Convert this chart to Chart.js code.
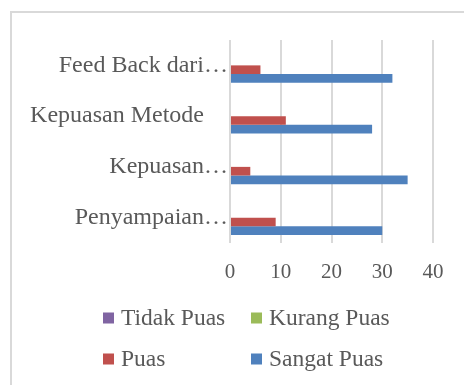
<!DOCTYPE html>
<html>
<head>
<meta charset="utf-8">
<script src="https://cdn.jsdelivr.net/npm/chart.js@4"></script>
<style>
  html, body { margin: 0; padding: 0; background: #fff; overflow: hidden; }
  #frame { position: absolute; left: 10px; top: 11px; width: 600px; height: 500px;
           border-left: 2px solid #d9d9d9; border-top: 2px solid #d9d9d9; }
  #wrap { position: absolute; left: 0; top: 0; width: 464px; height: 385px; }
</style>
</head>
<body>
<div id="frame"></div>
<div id="wrap"><canvas id="c" width="464" height="385"></canvas></div>
<script>
// Survey categories (top to bottom) and response counts per satisfaction level
const categories = ['Feed Back dari\u2026', 'Kepuasan Metode    ', 'Kepuasan\u2026', 'Penyampaian\u2026'];
const tidakPuas  = [0, 0, 0, 0];
const kurangPuas = [0, 0, 0, 0];
const puas       = [6, 11, 4, 9];
const sangatPuas = [32, 28, 35, 30];
const seriesNames  = ['Tidak Puas', 'Kurang Puas', 'Puas', 'Sangat Puas'];
const seriesColors = ['#8064A2', '#9BBB59', '#C0504D', '#4F81BD'];
const xTicks = [0, 10, 20, 30, 40];

const FONT = '"Liberation Serif", "Times New Roman", serif';
const TEXT = '#595959';

// Two-column legend drawn under the plot, columns aligned
const gridLegend = {
  id: 'gridLegend',
  afterDraw(chart) {
    const ctx = chart.ctx;
    const colX = [103, 251];
    const rowY = [318, 359];
    ctx.save();
    ctx.font = '23.5px ' + FONT;
    ctx.textBaseline = 'middle';
    ctx.textAlign = 'left';
    chart.data.datasets.forEach((ds, i) => {
      const x = colX[i % 2];
      const y = rowY[Math.floor(i / 2)];
      ctx.fillStyle = ds.backgroundColor;
      ctx.fillRect(x, y - 5.5, 11, 11);
      ctx.fillStyle = TEXT;
      ctx.fillText(ds.label, x + 18, y + 1);
    });
    ctx.restore();
  }
};

const seriesData = [tidakPuas, kurangPuas, puas, sangatPuas];

new Chart(document.getElementById('c'), {
  type: 'bar',
  data: {
    labels: categories,
    datasets: seriesNames.map((name, i) => ({
      label: name,
      data: seriesData[i],
      backgroundColor: seriesColors[i],
      borderWidth: 0,
      barPercentage: 1.0,
      categoryPercentage: 0.68
    }))
  },
  options: {
    indexAxis: 'y',
    responsive: false,
    animation: false,
    devicePixelRatio: 1,
    layout: { padding: { top: 40, right: 31, bottom: 0, left: 0 } },
    plugins: {
      legend: { display: false },
      tooltip: { enabled: false }
    },
    scales: {
      x: {
        min: 0,
        max: 40,
        afterBuildTicks(scale) { scale.ticks = xTicks.map(v => ({ value: v })); },
        afterFit(scale) { scale.height = 142; },
        grid: { display: true, color: '#d9d9d9', lineWidth: 2, drawTicks: false },
        border: { display: false },
        ticks: { color: TEXT, font: { family: FONT, size: 21 }, padding: 17 }
      },
      y: {
        afterFit(scale) { scale.width = 230; },
        grid: { display: false, drawTicks: false },
        border: { display: false },
        ticks: { color: TEXT, font: { family: FONT, size: 24 }, padding: 2, autoSkip: false }
      }
    }
  },
  plugins: [gridLegend]
});
</script>
</body>
</html>
